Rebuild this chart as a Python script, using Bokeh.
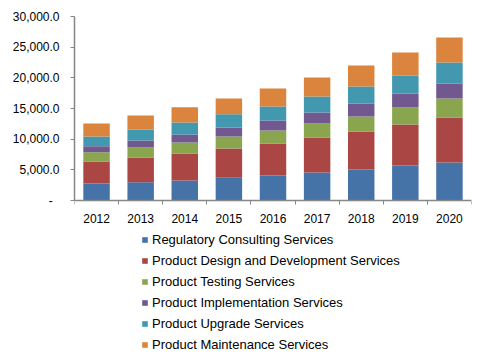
from bokeh.plotting import figure
from bokeh.models import ColumnDataSource, FixedTicker, NumeralTickFormatter, Legend, Range1d
from bokeh.embed import file_html
from bokeh.resources import INLINE

years = ["2012", "2013", "2014", "2015", "2016", "2017", "2018", "2019", "2020"]
series_names = [
    "Regulatory Consulting Services",
    "Product Design and Development Services",
    "Product Testing Services",
    "Product Implementation Services",
    "Product Upgrade Services",
    "Product Maintenance Services",
]
regulatory = [2770, 2990, 3260, 3700, 4080, 4565, 5050, 5710, 6200]
design = [3590, 4020, 4400, 4780, 5210, 5705, 6200, 6680, 7330]
testing = [1520, 1630, 1800, 1950, 2120, 2280, 2450, 2770, 3100]
implementation = [980, 1140, 1300, 1470, 1630, 1800, 2110, 2290, 2450]
upgrade = [1570, 1800, 1960, 2170, 2290, 2610, 2780, 2930, 3420]
maintenance = [2120, 2280, 2500, 2560, 2930, 3090, 3420, 3750, 4075]
y_ticks = [0, 5000, 10000, 15000, 20000, 25000, 30000]

colors = ["#4572A7", "#AA4643", "#89A54E", "#71588F", "#4198AF", "#DB843D"]
keys = ["s0", "s1", "s2", "s3", "s4", "s5"]

xs = list(range(len(years)))
source = ColumnDataSource(dict(x=xs, s0=regulatory, s1=design, s2=testing,
                               s3=implementation, s4=upgrade, s5=maintenance))

# Plot area spans the full height; the value axis occupies its upper part (0 at 200px).
y_top = 30000
y_bottom = y_top - 342 * y_top / 184.0

p = figure(width=477, height=358, output_backend="svg", toolbar_location=None,
           x_range=Range1d(-0.5, len(years) - 0.5), y_range=Range1d(y_bottom, y_top),
           min_border_left=74, min_border_right=6, min_border_top=16, min_border_bottom=0)

renderers = p.vbar_stack(keys, x="x", width=0.6, source=source, color=colors, line_color=None)

p.xgrid.visible = False
p.ygrid.visible = False
p.outline_line_color = None

axis_color = "#868686"
font = "Liberation Sans"

xa = p.xaxis[0]
xa.fixed_location = 0
xa.ticker = FixedTicker(ticks=xs, minor_ticks=[i - 0.5 for i in range(len(years) + 1)])
xa.major_label_overrides = {i: y for i, y in enumerate(years)}
xa.major_tick_out = 0
xa.major_tick_in = 0
xa.minor_tick_out = 4
xa.minor_tick_in = 0
xa.minor_tick_line_color = axis_color
xa.axis_line_color = axis_color
xa.axis_line_width = 1.5
xa.major_label_text_font = font
xa.major_label_text_font_size = "12px"
xa.major_label_text_color = "#000000"
xa.major_label_standoff = 9

ya = p.yaxis[0]
ya.bounds = (0, y_top)
ya.ticker = FixedTicker(ticks=y_ticks, minor_ticks=[])
ya.formatter = NumeralTickFormatter(format="0,0.0")
ya.major_label_overrides = {0: "-\u00a0\u00a0"}
ya.major_tick_out = 4
ya.major_tick_in = 0
ya.major_tick_line_color = axis_color
ya.axis_line_color = axis_color
ya.axis_line_width = 1.5
ya.major_label_text_font = font
ya.major_label_text_font_size = "12px"
ya.major_label_text_color = "#000000"
ya.major_label_standoff = 11

legend = Legend(items=[(name, [r]) for name, r in zip(series_names, renderers)],
                location=(67, 6), orientation="vertical")
legend.border_line_color = None
legend.background_fill_alpha = 0
legend.padding = 0
legend.margin = 0
legend.spacing = 6
legend.label_height = 15
legend.glyph_width = 7
legend.glyph_height = 7
legend.label_standoff = 4
legend.label_text_font = font
legend.label_text_font_size = "13px"
legend.label_text_color = "#000000"
legend.label_text_baseline = "middle"
p.add_layout(legend, "center")

open("out.html", "w").write(file_html(p, INLINE))
